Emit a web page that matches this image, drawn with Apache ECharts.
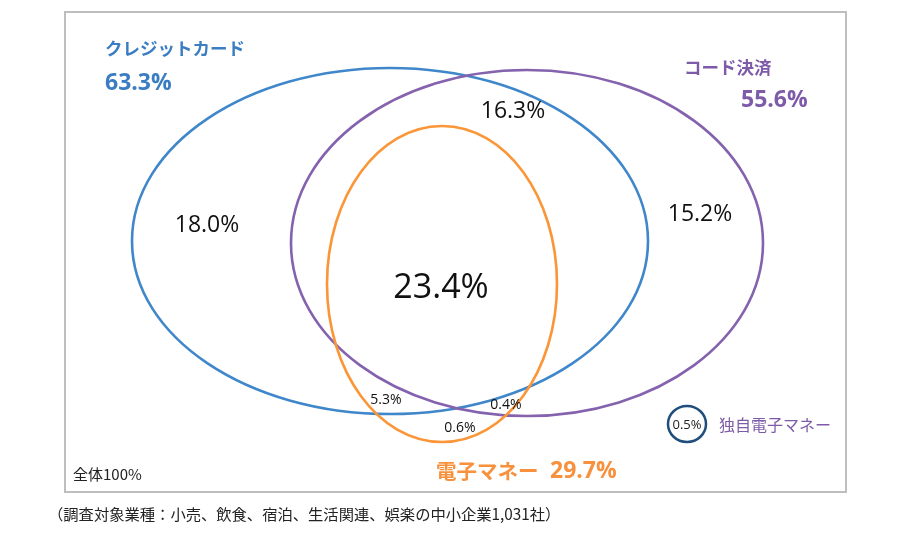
<!DOCTYPE html>
<html>
<head>
<meta charset="utf-8">
<script src="https://cdn.jsdelivr.net/npm/echarts@6/dist/echarts.min.js"></script>
<style>
html,body{margin:0;padding:0;background:#fff;}
#main{width:900px;height:543px;}
</style>
</head>
<body>
<div id="main"></div>
<script>
// ---- data ----
const setNames = ['クレジットカード', 'コード決済', '電子マネー', '独自電子マネー'];
const setValues = [63.3, 55.6, 29.7, 0.5];
const regionNames = ['カードのみ', 'カード・コード', 'コードのみ', '3種すべて', 'カード・電子', 'コード・電子', '電子のみ'];
const regionValues = [18.0, 16.3, 15.2, 23.4, 5.3, 0.4, 0.6];
const totalLabel = '全体100%';
const noteText = '（調査対象業種：小売、飲食、宿泊、生活関連、娯楽の中小企業1,031社）';

// ---- layout (pixel-like units on hidden axes) ----
const ellipseLayout = [
  {cx: 390, cy: 241, rx: 258, ry: 173, color: '#3F87CA'},
  {cx: 527, cy: 243, rx: 236, ry: 173, color: '#8462AE'},
  {cx: 442, cy: 284, rx: 115, ry: 158, color: '#FB9638'},
  {cx: 687, cy: 424, rx: 19, ry: 18, color: '#1F4E7D'}
];
const regionLayout = [
  {x: 207, y: 225, size: 23},
  {x: 513, y: 111, size: 23},
  {x: 700, y: 214, size: 23},
  {x: 441, y: 288, size: 34},
  {x: 386, y: 400, size: 14},
  {x: 506, y: 405, size: 14},
  {x: 460, y: 428, size: 14}
];
const FONT = '"Noto Sans CJK JP", "Noto Sans", sans-serif';
const NUMFONT = '"Open Sans", "Noto Sans", sans-serif';

const ellipseData = ellipseLayout.map((e, i) => [e.cx, e.cy, e.rx, e.ry, i]);
const regionData = regionLayout.map((p, i) => [p.x, p.y, regionValues[i], i]);

// set title labels
const setLabelLayout = [
  {name: {x: 105, y: 48, size: 17.5}, val: {x: 105, y: 83, size: 23}, color: '#3A7DC2'},
  {name: {x: 684, y: 67, size: 17.5}, val: {x: 741, y: 100, size: 23}, color: '#7E5BA8'},
  {name: {x: 436, y: 471, size: 20.5}, val: {x: 550, y: 471, size: 23}, color: '#F7913D'}
];

const chart = echarts.init(document.getElementById('main'), null, {renderer: 'canvas'});
chart.setOption({
  animation: false,
  backgroundColor: '#fff',
  grid: {left: 0, right: 0, top: 0, bottom: 0},
  xAxis: {type: 'value', min: 0, max: 900, show: false},
  yAxis: {type: 'value', min: 0, max: 543, inverse: true, show: false},
  graphic: [
    {type: 'rect', shape: {x: 65, y: 12, width: 781, height: 480},
     style: {fill: 'none', stroke: '#BEBEBE', lineWidth: 2}, z: 0}
  ],
  series: [
    {
      type: 'custom',
      data: ellipseData,
      renderItem: function (params, api) {
        const c = api.coord([api.value(0), api.value(1)]);
        const s = api.size([api.value(2), api.value(3)]);
        const e = ellipseLayout[api.value(4)];
        return {
          type: 'ellipse',
          shape: {cx: c[0], cy: c[1], rx: s[0], ry: s[1]},
          style: {fill: 'none', stroke: e.color, lineWidth: api.value(4) === 3 ? 2.5 : 2.6}
        };
      },
      z: 2
    },
    {
      type: 'custom',
      data: regionData,
      renderItem: function (params, api) {
        const c = api.coord([api.value(0), api.value(1)]);
        const p = regionLayout[api.value(3)];
        return {
          type: 'text',
          x: c[0], y: c[1],
          style: {
            text: api.value(2).toFixed(1) + '%',
            fill: '#111',
            font: p.size + 'px ' + NUMFONT,
            align: 'center', verticalAlign: 'middle'
          }
        };
      },
      z: 3
    },
    {
      type: 'custom',
      data: setLabelLayout.map((l, i) => [l.name.x, l.name.y, i]),
      renderItem: function (params, api) {
        const i = api.value(2);
        const l = setLabelLayout[i];
        const c = api.coord([api.value(0), api.value(1)]);
        const v = api.coord([l.val.x, l.val.y]);
        return {type: 'group', children: [
          {type: 'text', x: c[0], y: c[1], style: {
            text: setNames[i], fill: l.color,
            font: 'bold ' + l.name.size + 'px ' + FONT, align: 'left', verticalAlign: 'middle'}},
          {type: 'text', x: v[0], y: v[1], style: {
            text: setValues[i].toFixed(1) + '%', fill: l.color,
            font: 'bold ' + l.val.size + 'px ' + NUMFONT, align: 'left', verticalAlign: 'middle'}}
        ]};
      },
      z: 3
    },
    {
      type: 'custom',
      data: [[687, 425, setValues[3]]],
      renderItem: function (params, api) {
        const c = api.coord([api.value(0), api.value(1)]);
        const t = api.coord([719, 425]);
        return {type: 'group', children: [
          {type: 'text', x: c[0], y: c[1], style: {text: api.value(2).toFixed(1) + '%', fill: '#222',
            font: '13px ' + NUMFONT, align: 'center', verticalAlign: 'middle'}},
          {type: 'text', x: t[0], y: t[1], style: {text: setNames[3], fill: '#7E5BA8',
            font: '16px ' + FONT, align: 'left', verticalAlign: 'middle'}}
        ]};
      },
      z: 3
    },
    {
      type: 'custom',
      data: [[73, 474, 15], [48, 514, 15.3]],
      renderItem: function (params, api) {
        const c = api.coord([api.value(0), api.value(1)]);
        const txt = params.dataIndex === 0 ? totalLabel : noteText;
        return {type: 'text', x: c[0], y: c[1], style: {text: txt, fill: '#222',
          font: api.value(2) + 'px ' + FONT, align: 'left', verticalAlign: 'middle'}};
      },
      z: 3
    }
  ]
});
</script>
</body>
</html>
